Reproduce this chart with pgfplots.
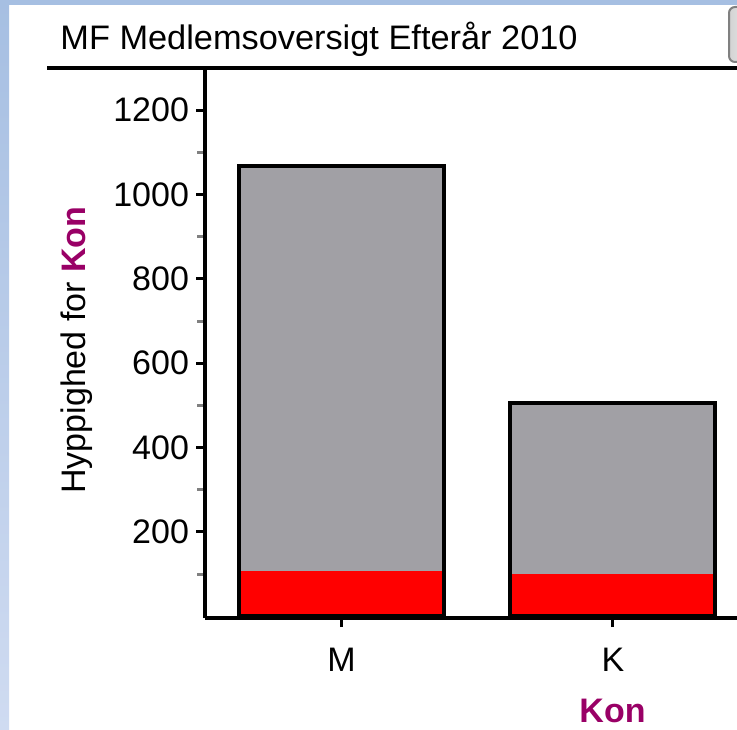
\documentclass[border=0pt]{standalone}
\usepackage{pgfplots}
\pgfplotsset{compat=1.18}
\usepackage{fontspec}
\setmainfont{Liberation Sans}
\definecolor{barGray}{HTML}{A1A0A5}
\definecolor{konPurple}{HTML}{990066}
\definecolor{blueTop}{HTML}{A6BFE2}
\definecolor{blueBot}{HTML}{CFDBF1}
\newcommand{\chartfont}{\fontsize{17}{20}\selectfont}
\begin{document}
\begin{tikzpicture}
\path[use as bounding box] (0,0) rectangle (368.5pt,364.5pt);
\shade[top color=blueTop, bottom color=blueBot] (0,0) rectangle (4.5pt,364.5pt);
\fill[blueTop] (0,362pt) rectangle (368.5pt,364.5pt);
\draw[gray, line width=1pt, left color=gray!35, right color=white, rounded corners=3pt] (364.5pt,333.5pt) rectangle (385pt,361pt);
\node[anchor=base west, inner sep=0pt, font=\chartfont] at (30pt,339.5pt) {\scalebox{1.01}[1]{MF Medlemsoversigt Efterår 2010}};
\draw[line width=2pt] (23.5pt,330.5pt) -- (368.5pt,330.5pt);
\begin{axis}[
  at={(102.5pt,55.5pt)}, anchor=south west,
  scale only axis, width=266pt, height=275pt,
  xmin=-0.503, xmax=1.457, ymin=-4, ymax=1300,
  axis x line=bottom, axis y line=left,
  axis line style={line width=2pt, -},
  xtick={0,1}, xticklabels={M,K},
  ytick={200,400,...,1200},
  minor ytick={100,300,...,1100},
  tick align=outside,
  major tick length=4.5pt, minor tick length=4pt,
  tick style={black, line width=1.5pt},
  minor tick style={gray, line width=1.5pt},
  ticklabel style={font=\chartfont},
  xticklabel style={yshift=-7pt},
  /pgf/number format/1000 sep={},
  /pgf/number format/assume math mode=true,
  ylabel={Hyppighed for \textcolor{konPurple}{\textbf{Kon}}},
  ylabel style={font=\chartfont, at={(axis description cs:-0.2406,0.487)}, anchor=center, rotate=0},
  xlabel={\textcolor{konPurple}{\textbf{Kon}}},
  xlabel style={font=\chartfont, at={(axis description cs:0.766,-0.169)}, anchor=center},
  clip=false,
]
\addplot[ybar, bar width=102.5pt, bar shift=0pt, fill=barGray, draw=none] coordinates {(0,1067) (1,506)};
\addplot[ybar, bar width=102.5pt, bar shift=0pt, fill=red, draw=none] coordinates {(0,107) (1,100)};
\addplot[ybar, bar width=102.5pt, bar shift=0pt, fill=none, draw=black, line width=2pt] coordinates {(0,1067) (1,506)};
\end{axis}
\end{tikzpicture}
\end{document}
